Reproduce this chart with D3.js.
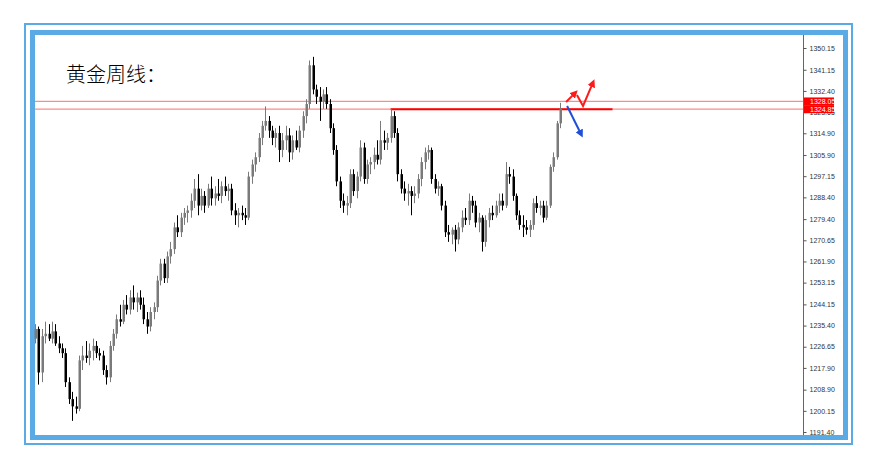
<!DOCTYPE html>
<html>
<head>
<meta charset="utf-8">
<script src="https://cdn.jsdelivr.net/npm/d3@7"></script>
<style>
	body { margin: 0; background: #fff; }
	svg { display: block; }
	.yAxis text { font-family: 'Liberation Sans', sans-serif; font-size: 7px; fill: #333; }
	.yAxis line { stroke: #555; }
</style>
</head>
<body>
<div id="area1"></div>
<script>
// DATA (daily candles)
var opens = [1230,1234,1216,1231,1232,1230,1233,1228,1226,1224,1212,1205,1202,1201,1221,1223,1222,1225,1227,1224,
	1223,1217,1214,1227,1232,1238,1237,1244,1242,1247,1245,1247,1244,1238,1235,1241,1243,1254,1261,1255,
	1264,1267,1276,1274,1280,1282,1283,1287,1292,1285,1289,1285,1292,1288,1290,1289,1293,1291,1292,1283,
	1281,1282,1281,1280,1297,1302,1305,1313,1318,1320,1316,1313,1315,1308,1312,1314,1307,1312,1309,1316,
	1322,1327,1343,1333,1330,1328,1331,1327,1317,1308,1295,1287,1285,1286,1298,1291,1297,1309,1296,1302,
	1303,1306,1304,1312,1311,1313,1322,1315,1298,1292,1290,1291,1289,1290,1296,1303,1307,1308,1296,1292,
	1293,1285,1274,1273,1275,1271,1276,1280,1279,1287,1285,1278,1280,1270,1279,1282,1281,1285,1287,1285,
	1298,1297,1289,1281,1277,1276,1275,1277,1286,1284,1285,1280,1285,1301,1305,1319];
var highs = [1236,1235,1234,1237,1236,1237,1236,1231,1228,1226,1214,1208,1206,1223,1227,1229,1228,1230,1229,1226,
	1225,1219,1229,1234,1240,1244,1246,1248,1250,1252,1249,1250,1247,1241,1243,1245,1256,1263,1263,1266,
	1270,1278,1281,1282,1284,1285,1290,1296,1298,1292,1291,1294,1297,1293,1296,1295,1297,1294,1294,1286,
	1284,1285,1284,1299,1304,1307,1315,1320,1326,1322,1318,1317,1318,1315,1318,1317,1314,1316,1318,1324,
	1329,1345,1346.5,1335,1334,1333,1334,1329,1319,1310,1297,1290,1289,1300,1300,1299,1312,1311,1304,1305,
	1309,1312,1320,1316,1315,1324.8,1324,1317,1300,1295,1294,1293,1293,1298,1305,1309,1310,1309,1298,1295,
	1294,1287,1277,1276,1277,1278,1283,1284,1290,1289,1287,1282,1281,1281,1284,1285,1287,1290,1290,1303,
	1301,1300,1290,1283,1281,1279,1279,1288,1289,1287,1287,1287,1302,1307,1320,1327.5];
var lows = [1228,1211,1212,1228,1229,1228,1227,1224,1222,1210,1203,1196,1199,1200,1217,1220,1219,1221,1222,1221,
	1215,1211,1212,1225,1230,1235,1236,1240,1240,1242,1241,1242,1236,1232,1233,1238,1241,1252,1253,1253,
	1261,1265,1272,1272,1277,1278,1280,1284,1281,1283,1282,1284,1285,1285,1287,1286,1289,1287,1281,1277,
	1276,1279,1277,1279,1294,1299,1303,1310,1316,1313,1310,1309,1303,1305,1308,1303,1304,1308,1307,1313,
	1319,1325,1331,1327,1320,1325,1325,1315,1306,1293,1284,1282,1281,1284,1289,1288,1295,1294,1294,1298,
	1300,1302,1302,1308,1308,1311,1313,1295,1290,1287,1285,1281,1286,1288,1293,1300,1304,1294,1290,1289,
	1283,1272,1270,1269,1266,1269,1274,1277,1277,1282,1276,1274,1266,1268,1276,1279,1280,1282,1283,1284,
	1294,1287,1279,1275,1272,1273,1272,1275,1282,1281,1278,1279,1284,1299,1304,1317];
var closes = [1234,1216,1231,1232,1230,1233,1228,1226,1224,1212,1205,1202,1201,1221,1223,1222,1225,1227,1224,1223,
	1217,1214,1227,1232,1238,1237,1244,1242,1247,1245,1247,1244,1238,1235,1241,1243,1254,1261,1255,1264,
	1267,1276,1274,1280,1282,1283,1287,1292,1285,1289,1285,1292,1288,1290,1289,1293,1291,1292,1283,1281,
	1282,1281,1280,1297,1302,1305,1313,1318,1320,1316,1313,1315,1308,1312,1314,1307,1312,1309,1316,1322,
	1327,1343,1333,1330,1328,1331,1327,1317,1308,1295,1287,1285,1286,1298,1291,1297,1309,1296,1302,1303,
	1306,1304,1312,1311,1313,1322,1315,1298,1292,1290,1291,1289,1290,1296,1303,1307,1308,1296,1292,1293,
	1285,1274,1273,1275,1271,1276,1280,1279,1287,1285,1278,1280,1270,1279,1282,1281,1285,1287,1285,1298,
	1297,1289,1281,1277,1276,1275,1277,1286,1284,1285,1280,1285,1301,1305,1319,1325];

// price axis labels
var tickVals = [1350.15,1341.15,1332.40,1323.65,1314.90,1305.90,1297.15,1288.40,1279.40,1270.65,
	1261.90,1253.15,1244.15,1235.40,1226.65,1217.90,1208.90,1200.15,1191.40];

// horizontal levels
var levels = [1328.05, 1324.85];
var resistStart = 105, resistEnd = 170.5;   // bar index range of the thick red line

// arrows, [bar index, price]
var redArrow1 = [[156.8,1327.8],[159.4,1331.5]];
var redArrow2 = [[160,1330.7],[161.8,1326.2],[164.7,1335.7]];
var blueArrow = [[157.1,1326.2],[161.2,1314.6]];

var title = '黄金周线：';

// BOUNDS
var W = 870, H = 470;
var plot = {left: 35, right: 803, top: 35, bottom: 435};

// SCALE
var xScale = d3.scaleLinear().domain([0, closes.length - 1]).range([35, 560]);
var yScale = d3.scaleLinear().domain([1191.40, 1350.15]).range([432, 48]);

var svg = d3.select('#area1')
	.append('svg')
	.attr('width', W)
	.attr('height', H);

// arrow heads
var defs = svg.append('defs');
[['headRed', '#ff1a1a'], ['headBlue', '#1f4fd8']].forEach(function(m) {
	defs.append('marker')
		.attr('id', m[0])
		.attr('viewBox', '0 0 10 10')
		.attr('refX', 5).attr('refY', 5)
		.attr('markerWidth', 4).attr('markerHeight', 4)
		.attr('orient', 'auto')
		.append('path')
		.attr('d', 'M0,0 L10,5 L0,10 z')
		.attr('fill', m[1]);
});

// FRAME
svg.append('rect')
	.attr('x', 25).attr('y', 24)
	.attr('width', 827).attr('height', 420)
	.attr('fill', 'none')
	.attr('stroke', '#5aaae6')
	.attr('stroke-width', 2);
svg.append('rect')
	.attr('x', 32.5).attr('y', 32.5)
	.attr('width', 813).attr('height', 405)
	.attr('fill', '#fff')
	.attr('stroke', '#5aaae6')
	.attr('stroke-width', 5);

var chart = svg.append('g');

// pale level lines
chart.selectAll('.level')
	.data(levels)
	.enter().append('line')
	.attr('class', 'level')
	.attr('x1', plot.left).attr('x2', plot.right)
	.attr('y1', function(d) { return yScale(d); })
	.attr('y2', function(d) { return yScale(d); })
	.attr('stroke', '#ff8a8a')
	.attr('stroke-width', 1.3);

// thick resistance line
chart.append('line')
	.attr('x1', xScale(resistStart)).attr('x2', xScale(resistEnd))
	.attr('y1', yScale(levels[1])).attr('y2', yScale(levels[1]))
	.attr('stroke', '#ff0000')
	.attr('stroke-width', 2);

// CANDLES
var bars = closes.map(function(c, i) {
	return {i: i, o: opens[i], h: highs[i], l: lows[i], c: c};
});
var colorOf = function(d) { return d.c >= d.o ? '#7a7a7a' : '#000'; };

var candle = chart.selectAll('.candle')
	.data(bars)
	.enter().append('g')
	.attr('class', 'candle');

candle.append('line')
	.attr('x1', function(d) { return Math.round(xScale(d.i)) + 0.5; })
	.attr('x2', function(d) { return Math.round(xScale(d.i)) + 0.5; })
	.attr('y1', function(d) { return yScale(d.h); })
	.attr('y2', function(d) { return yScale(d.l); })
	.attr('stroke', colorOf)
	.attr('stroke-width', 1);

candle.append('rect')
	.attr('x', function(d) { return Math.round(xScale(d.i)) - 0.5; })
	.attr('width', 2.5)
	.attr('y', function(d) { return yScale(Math.max(d.o, d.c)); })
	.attr('height', function(d) { return Math.max(1, Math.abs(yScale(d.o) - yScale(d.c))); })
	.attr('fill', colorOf);

// ARROWS
var line = d3.line()
	.x(function(d) { return xScale(d[0]); })
	.y(function(d) { return yScale(d[1]); });

[[redArrow1, '#ff1a1a', 'headRed'], [redArrow2, '#ff1a1a', 'headRed'], [blueArrow, '#1f4fd8', 'headBlue']]
	.forEach(function(a) {
		chart.append('path')
			.attr('d', line(a[0]))
			.attr('fill', 'none')
			.attr('stroke', a[1])
			.attr('stroke-width', 2)
			.attr('marker-end', 'url(#' + a[2] + ')');
	});

// AXIS
svg.append('line')
	.attr('x1', plot.right + 0.5).attr('x2', plot.right + 0.5)
	.attr('y1', plot.top).attr('y2', plot.bottom)
	.attr('stroke', '#666')
	.attr('stroke-width', 1);

var yAxis = d3.axisRight(yScale)
	.tickValues(tickVals)
	.tickFormat(d3.format('.2f'))
	.tickSize(3)
	.tickPadding(3);

var axisG = svg.append('g')
	.attr('class', 'yAxis')
	.attr('transform', 'translate(' + (plot.right + 0.5) + ',0)')
	.call(yAxis);
axisG.select('.domain').remove();

// price boxes for the two levels
var tags = svg.selectAll('.tag')
	.data(levels)
	.enter().append('g')
	.attr('class', 'tag')
	.attr('transform', function(d) { return 'translate(' + (plot.right + 1) + ',' + yScale(d) + ')'; });
tags.append('rect')
	.attr('x', 0).attr('y', -4)
	.attr('width', 30).attr('height', 8)
	.attr('fill', '#ff0000');
tags.append('text')
	.attr('x', 6).attr('y', 2.5)
	.attr('font-family', 'Liberation Sans, sans-serif')
	.attr('font-size', 7)
	.attr('fill', '#fff')
	.text(function(d) { return d3.format('.2f')(d); });

// TITLE
svg.append('text')
	.attr('x', 66).attr('y', 82)
	.attr('font-family', 'Noto Sans CJK SC, sans-serif')
	.attr('font-size', 20)
	.attr('font-weight', 300)
	.attr('fill', '#000')
	.text(title);
</script>
</body>
</html>
